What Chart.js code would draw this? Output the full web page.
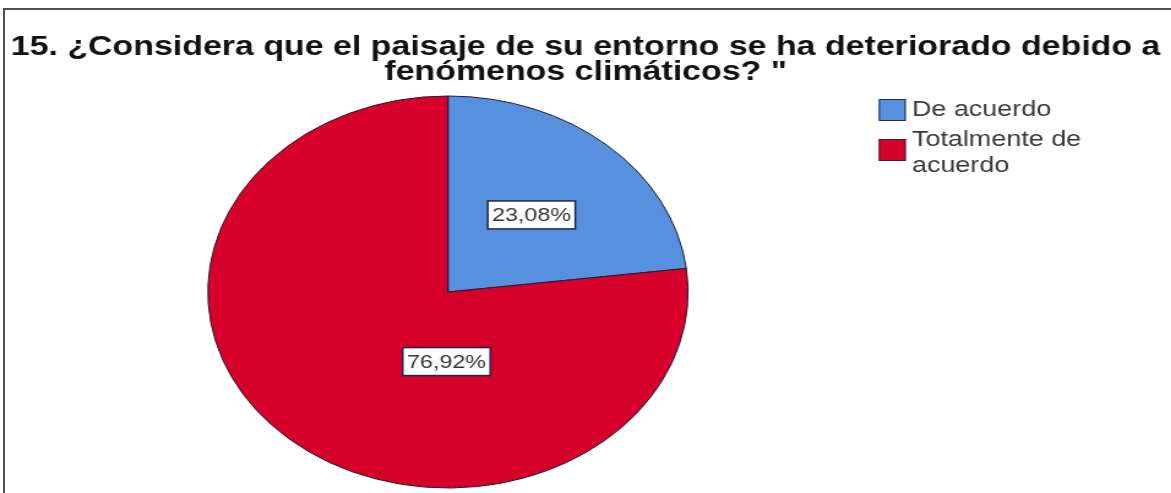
<!DOCTYPE html>
<html>
<head>
<meta charset="utf-8">
<script src="https://cdn.jsdelivr.net/npm/chart.js@4.4.0/dist/chart.umd.min.js"></script>
<style>
  html, body { margin: 0; padding: 0; background: #fff; overflow: hidden; }
  #frame {
    position: absolute; left: 3px; top: 8px; width: 1300px; height: 600px;
    border-top: 2px solid #505050; border-left: 2px solid #505050;
  }
  /* the chart is drawn narrow and stretched sideways, like the exported image */
  #wrap {
    position: absolute; left: 0; top: 0; width: 956px; height: 493px;
    transform: scaleX(1.225); transform-origin: 0 0;
  }
</style>
</head>
<body>
<div id="frame"></div>
<div id="wrap"><canvas id="pie" width="956" height="493"></canvas></div>
<script>
const titleLines = [
  '15. ¿Considera que el paisaje de su entorno se ha deteriorado debido a',
  'fenómenos climáticos? "'
];
const categories = ['De acuerdo', 'Totalmente de acuerdo'];
const percents = [23.08, 76.92];
const sliceColors = ['#5790de', '#d7002b'];

// where each value box sits: degrees clockwise from 12 o'clock, fraction of radius
const labelSpots = [[41.5, 0.525], [181, 0.355]];

const FONT = '"Liberation Sans", Arial, sans-serif';

function wrapWords(text, maxChars) {
  const lines = [];
  let line = '';
  text.split(' ').forEach(w => {
    if (line && (line + ' ' + w).length > maxChars) {
      lines.push(line);
      line = w;
    } else {
      line = line ? line + ' ' + w : w;
    }
  });
  lines.push(line);
  return lines;
}

// legend column on the right, registered as a layout box so the pie keeps to the left
const sideLegend = {
  id: 'sideLegend',
  beforeInit(chart) {
    const box = {
      position: 'right',
      weight: 0,
      fullSize: false,
      options: { display: true },
      top: 0, left: 0, right: 0, bottom: 0, width: 0, height: 0,
      isHorizontal() { return false; },
      update(maxWidth, maxHeight) {
        this.width = 224.6;
        this.height = maxHeight;
      },
      getPadding() { return { top: 0, left: 0, right: 0, bottom: 0 }; },
      draw() {
        const ctx = chart.ctx;
        const ds = chart.data.datasets[0];
        const x = this.left - 14;
        const lineH = 26;
        let y = 110;
        ctx.save();
        ctx.font = '22px ' + FONT;
        ctx.textBaseline = 'middle';
        ctx.textAlign = 'left';
        chart.data.labels.forEach((lab, i) => {
          const lines = wrapWords(lab, 13);
          const mid = y + (lines.length - 1) * 10;
          ctx.fillStyle = ds.backgroundColor[i];
          ctx.fillRect(x, mid - 11, 22, 22);
          ctx.strokeStyle = '#2a2a3a';
          ctx.lineWidth = 1;
          ctx.strokeRect(x + 0.5, mid - 10.5, 21, 21);
          ctx.fillStyle = '#383838';
          lines.forEach((ln, k) => ctx.fillText(ln, x + 27, y + k * lineH));
          y += lines.length * lineH + 4;
        });
        ctx.restore();
      }
    };
    Chart.layouts.addBox(chart, box);
  }
};

// white value boxes inside the slices
const valueBoxes = {
  id: 'valueBoxes',
  afterDatasetsDraw(chart) {
    const ctx = chart.ctx;
    const meta = chart.getDatasetMeta(0);
    ctx.save();
    ctx.font = '19px ' + FONT;
    ctx.textAlign = 'center';
    ctx.textBaseline = 'middle';
    meta.data.forEach((arc, i) => {
      const p = arc.getProps(['x', 'y', 'outerRadius'], true);
      const a = labelSpots[i][0] * Math.PI / 180;
      const r = p.outerRadius * labelSpots[i][1];
      const cx = p.x + r * Math.sin(a);
      const cy = p.y - r * Math.cos(a);
      const txt = percents[i].toFixed(2).replace('.', ',') + '%';
      const w = ctx.measureText(txt).width + 7;
      const h = 28;
      ctx.fillStyle = '#fff';
      ctx.fillRect(cx - w / 2, cy - h / 2, w, h);
      ctx.strokeStyle = '#1d2740';
      ctx.lineWidth = 1.5;
      ctx.strokeRect(cx - w / 2, cy - h / 2, w, h);
      ctx.fillStyle = '#333';
      ctx.fillText(txt, cx, cy + 1);
    });
    ctx.restore();
  }
};

new Chart(document.getElementById('pie'), {
  type: 'pie',
  data: {
    labels: categories,
    datasets: [{
      data: percents,
      backgroundColor: sliceColors,
      borderColor: '#1e1e2e',
      borderWidth: 1
    }]
  },
  options: {
    responsive: false,
    animation: false,
    layout: { padding: { top: 0, left: 0, right: 0, bottom: 4.5 } },
    plugins: {
      legend: { display: false },
      tooltip: { enabled: false },
      title: {
        display: true,
        text: titleLines,
        color: '#111',
        font: { family: FONT, size: 27.7, weight: 'bold', lineHeight: 25 / 27.7 },
        padding: { top: 35, bottom: 10.5 }
      }
    }
  },
  plugins: [sideLegend, valueBoxes]
});
</script>
</body>
</html>
